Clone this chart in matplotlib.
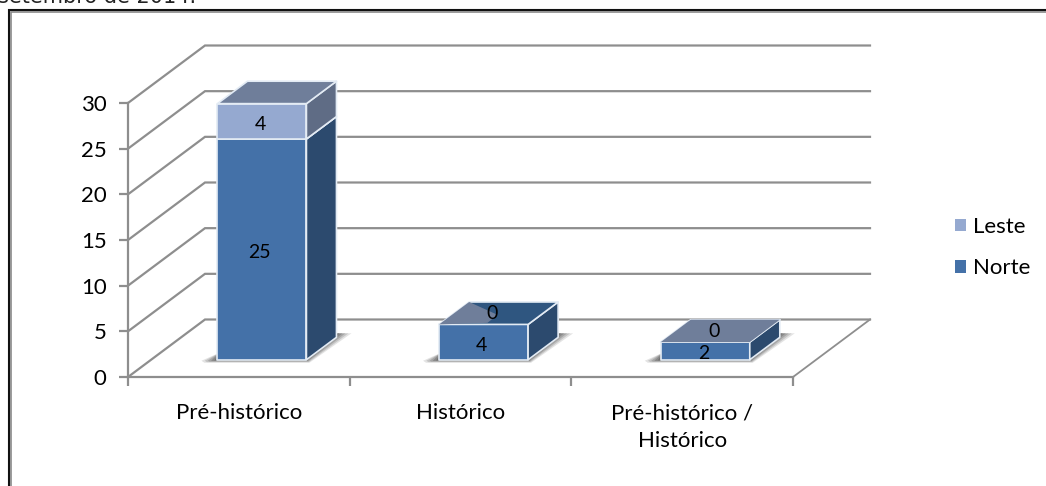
import matplotlib
matplotlib.use("Agg")
import matplotlib.pyplot as plt
from matplotlib.patches import Polygon, Patch, Rectangle

categories = ["Pré-histórico", "Histórico", "Pré-histórico /\nHistórico"]
norte = [25, 4, 2]
leste = [4, 0, 0]
yticks = [0, 5, 10, 15, 20, 25, 30]

W, H = 1046, 486
GRID = "#8e8e8e"
NORTE = dict(front="#4471a8", side="#2c4a6e", top="#2f5680")
LESTE = dict(front="#95a9d0", side="#5f6c85", top="#6f7e9a")
EDGE = "#e3ebf4"

plt.rcParams["font.family"] = ["Lato", "DejaVu Sans"]
fig = plt.figure(figsize=(W / 100, H / 100), dpi=100, facecolor="white")

# outer frame of the picture: a black line with a grey line inside it
fig.add_artist(Rectangle((11 / W, -0.02), 1.2, 1 - 12 / H + 0.02,
                         transform=fig.transFigure, fc="none", ec="#8a8a8a", lw=1.2))
fig.add_artist(Rectangle((9 / W, -0.02), 1.2, 1 - 10 / H + 0.02,
                         transform=fig.transFigure, fc="none", ec="#111111", lw=1.5))
fig.text(-2 / W, 1 - 3 / H, "setembro de 2014.", fontsize=15, family="DejaVu Sans",
         color="#222222", ha="left", va="baseline")

L, R, B, T = 128, 793, 377, 103
ax = fig.add_axes([L / W, 1 - B / H, (R - L) / W, (B - T) / H])
ax.set_xlim(0, 3)
ax.set_ylim(0, 30)
ax.patch.set_alpha(0)
for s in ("top", "right"):
    ax.spines[s].set_visible(False)
for s in ("left", "bottom"):
    ax.spines[s].set_color(GRID)
    ax.spines[s].set_linewidth(1.6)

# depth of the plot box and of the bars, in axis units
sx = 3 / (R - L)
sy = 30 / (B - T)
DX, DY = 77 * sx, 57.5 * sy
BAR_W = 89 * sx
BAR_Y = 0.967           # bars sit inside the depth, so are slightly shorter
D0, D1 = 0.30, 0.69     # front and back of the bars as fractions of the depth


def p(x, y, d):
    return (x + d * DX, y + d * DY)


# walls
for v in yticks:
    ax.plot(*zip(p(0, v, 0), p(0, v, 1), p(3, v, 1)), color=GRID, lw=1.6,
            clip_on=False, zorder=1, solid_joinstyle="miter")
ax.plot(*zip(p(3, 0, 0), p(3, 0, 1)), color=GRID, lw=1.3, clip_on=False, zorder=1)


def shadow(cx):
    x0, x1 = cx - BAR_W / 2, cx + BAR_W / 2
    fl = p(x0, 0, D0)
    fr = p(x1, 0, D0)
    br = p(x1, 0, D1)
    layers = [(1.0, .14), (.8, .18), (.6, .22), (.4, .26), (.2, .30)]
    for g, a in layers:
        pts = [(fl[0] + 2 * sx, fl[1] + 7 * sy),
               (fl[0] - 16 * g * sx, fl[1] - 1 * sy),
               (fl[0] - 13 * g * sx, fl[1] - 3 * g * sy),
               (fr[0] + 3 * g * sx, fr[1] - 3 * g * sy),
               (br[0] + 15 * g * sx, br[1] + 4 * sy),
               (br[0], br[1] + 4 * sy)]
        ax.add_patch(Polygon(pts, fc="#3a3a3a", ec="none", alpha=a, zorder=2, clip_on=False))


def box(cx, base, height, c):
    x0, x1 = cx - BAR_W / 2, cx + BAR_W / 2
    y0, y1 = base * BAR_Y, (base + height) * BAR_Y
    faces = [
        ([p(x0, y0, D0), p(x1, y0, D0), p(x1, y1, D0), p(x0, y1, D0)], c["front"]),
        ([p(x1, y0, D0), p(x1, y0, D1), p(x1, y1, D1), p(x1, y1, D0)], c["side"]),
        ([p(x0, y1, D0), p(x1, y1, D0), p(x1, y1, D1), p(x0, y1, D1)], c["top"]),
    ]
    for pts, col in faces:
        ax.add_patch(Polygon(pts, fc=col, ec=EDGE, lw=1.2, zorder=3, clip_on=False,
                             joinstyle="round"))


def top_patch(cx, y, fracs, col):
    x0 = cx - BAR_W / 2
    pts = [p(x0 + u * BAR_W, y * BAR_Y, D0 + v * (D1 - D0)) for u, v in fracs]
    ax.add_patch(Polygon(pts, fc=col, ec="none", zorder=3.5, clip_on=False))


def label(cx, base, height, value):
    y = (base + height / 2) * BAR_Y
    zero = height == 0
    d = D0 + (D1 - D0) * (0.35 if zero else 0)
    x, yy = p(cx, y, d)
    yy += (3 if zero else -3) * sy
    x -= 2 * sx
    ax.text(x, yy, str(value), ha="center", va="center", fontsize=14, color="black",
            zorder=5, clip_on=False)


for i, cat in enumerate(categories):
    cx = i + 0.5
    shadow(cx)
    box(cx, 0, norte[i], NORTE)
    if leste[i] > 0:
        box(cx, norte[i], leste[i], LESTE)
    elif i == 2:
        top_patch(cx, norte[i], [(0, 0), (1, 0), (1, 1), (0, 1)], LESTE["top"])
    else:
        top_patch(cx, norte[i], [(0, 0), (0, 1), (.51, .43), (.52, .07)], LESTE["top"])
    label(cx, 0, norte[i], norte[i])
    label(cx, norte[i], leste[i], leste[i])

ax.set_yticks(yticks)
ax.set_yticklabels([str(v) for v in yticks])
ax.set_xticks([0, 1, 2, 3])
ax.set_xticklabels([])
ax.set_xticks([0.5, 1.5, 2.5], minor=True)
ax.set_xticklabels(categories, minor=True, linespacing=1.5)
ax.tick_params(axis="x", which="major", length=6.5, width=1.6, color=GRID, direction="out")
ax.tick_params(axis="x", which="minor", length=0, pad=19, labelsize=16, labelcolor="black")
ax.tick_params(axis="y", length=6.5, width=1.6, color=GRID, pad=9, labelsize=16, labelcolor="black")

handles = [Patch(fc=LESTE["front"], ec="none", label="Leste"),
           Patch(fc=NORTE["front"], ec="none", label="Norte")]
fig.legend(handles=handles, loc="center left", bbox_to_anchor=(955 / W, 1 - 247.5 / H),
           frameon=False, fontsize=16, handlelength=0.5, handleheight=0.5,
           handletextpad=0.33, labelspacing=0.97, borderpad=0, borderaxespad=0)

fig.savefig("out.png", dpi=100)
